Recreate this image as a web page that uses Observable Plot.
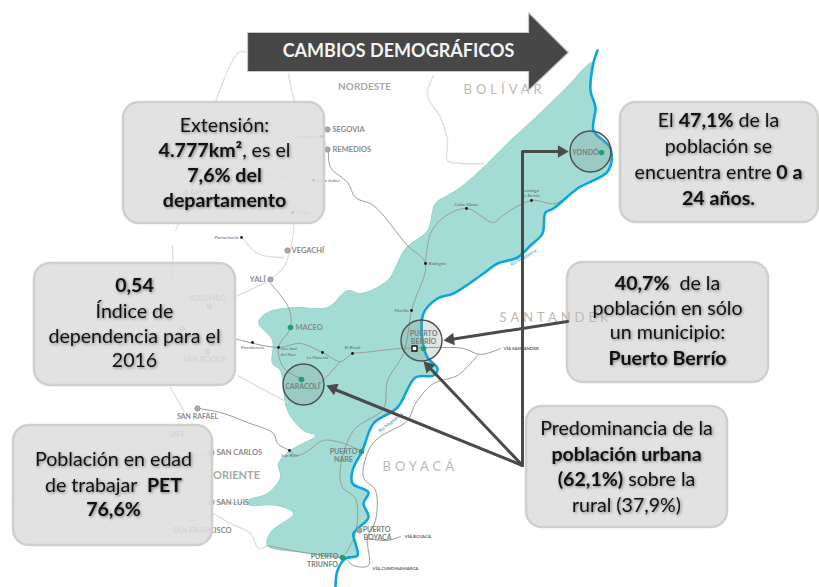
<!DOCTYPE html>
<html><head><meta charset="utf-8">
<script src="https://cdn.jsdelivr.net/npm/d3@7"></script>
<script src="https://cdn.jsdelivr.net/npm/@observablehq/plot@0.6"></script>
<style>html,body{margin:0;padding:0;background:#fff}svg{display:block}</style>
</head><body><div id="chart"></div>
<script>
const regionOutline=[[592,62],[565,88],[535,117],[510,140],[487,163],[460,187],[447,195],[435,203],[427,230],[405,248],[387,280],[360,293],[347,290],[327,307],[293,307],[267,312],[258,322],[272,340],[272,363],[280,370],[287,410],[303,430],[315,435],[290,450],[278,463],[280,477],[267,493],[248,500],[248,504],[277,505],[293,513],[270,532],[267,545],[303,552],[340,557],[357,555],[355,543],[353,533],[368,517],[363,503],[368,492],[352,483],[352,470],[362,450],[373,423],[397,407],[415,377],[433,375],[437,368],[427,357],[422,340],[423,313],[437,298],[453,293],[483,273],[497,263],[517,257],[530,245],[542,233],[545,212],[553,208],[577,188],[608,170],[610,148],[593,130],[595,107],[590,90]];
const riverPath=[[597,50],[593,62],[590,90],[595,107],[593,130],[610,148],[608,170],[577,188],[553,208],[545,212],[542,233],[530,245],[517,257],[497,263],[483,273],[453,293],[437,298],[423,313],[422,340],[427,357],[437,368],[433,375],[415,377],[397,407],[373,423],[362,450],[352,470],[352,483],[368,492],[363,503],[368,517],[353,533],[355,543],[357,555],[345,558],[337,570],[335,587]];
const mainRoads=[
 [[328,150],[330,167],[347,182],[355,197],[373,205],[407,245],[425,263],[415,298],[411,310],[403,353],[387,380],[383,408],[353,430],[340,467],[342,487],[355,498],[355,533],[345,553]],
 [[425,263],[430,233],[443,217],[466,208],[493,222],[502,215],[531,200],[555,203],[577,188]],
 [[230,337],[277,347],[300,343],[322,352],[340,361],[352,353],[363,352],[400,348],[443,347],[463,348],[480,354],[500,348]],
 [[477,355],[457,375],[433,383],[415,403],[407,420],[377,438],[368,450],[363,477],[375,490],[375,520],[367,537],[368,565],[353,565],[345,558]],
 [[367,538],[387,540],[400,536]],
 [[270,283],[288,307],[290,327],[278,347],[283,367],[302,379]],
 [[320,383],[340,361]],
 [[267,545],[303,552],[342,557]],
 [[199,408],[220,412],[247,422],[273,433],[277,443],[289,450],[297,455],[308,450],[322,440],[340,442],[360,450]]
];
const lightRoads=[
 [[433,75],[427,95],[440,117],[447,140],[447,160],[460,163],[483,163]],
 [[288,73],[297,107],[320,133],[327,149]],
 [[205,130],[238,52],[247,52]],
 [[293,223],[293,233],[283,267],[270,278]],
 [[242,237],[257,253],[283,257]],
 [[233,297],[270,280]],
 [[237,375],[287,402]],
 [[170,387],[183,410]],
 [[213,513],[230,523],[250,533],[258,548],[267,545]],
 [[170,510],[190,520],[213,515]],
 [[190,463],[207,493],[213,500],[248,502]],
 [[193,455],[213,455]],
 [[170,283],[172,270],[172,245]],
 [[313,180],[292,212],[293,223]],
 [[175,230],[210,180],[313,180]],
 [[215,310],[233,297]],
 [[210,345],[230,337]]
];
const headerArrow=[[247,32],[528,32],[528,12],[568,52],[528,90],[528,71],[247,71]];
const circles=[[590,151],[421,340],[303,384]];
const pointerLines=[
 [[522,465],[522,151],[561,151]],
 [[522,465],[332,388]],
 [[522,465],[428,366]],
 [[567,321],[450,339]]
];
const pointerHeads=[[561,151,90],[332.5,387.6,-68],[428,366,-44],[450,339,-98]];
const boxes=[[123,102,324,223],[34,263,235,385],[13,425,212,545],[620,102,818,222],[567,262,768,382],[526,406,727,527]];
const boxLines=[
 [224,125,"Extensión:"],[224,150,"*4.777km²*, es el"],[224,175,"*7,6% del*"],[224,200,"*departamento*"],
 [134,285,"*0,54*"],[134,311,"Índice de"],[134,336,"dependencia para el"],[134,360,"2016"],
 [113,459,"Población en edad"],[113,485,"de trabajar  *PET*"],[113,509,"*76,6%*"],
 [718,120,"El *47,1%* de la"],[718,146,"población se"],[718,172,"encuentra entre *0 a*"],[718,198,"*24 años.*"],
 [667,283,"*40,7%*  de la"],[667,308,"población en sólo"],[667,332,"un municipio:"],[667,358,"*Puerto Berrío*"],
 [626,428,"Predominancia de la"],[626,454,"*población urbana*"],[626,479,"*(62,1%)* sobre la"],[626,505,"rural (37,9%)"]
];
const regionNames=[[364,86,"NORDESTE",10],[236,475,"ORIENTE",11]];
const spacedNames=[[463,89,"BOLÍVAR"],[499,317,"SANTANDER"],[382,466,"BOYACÁ"]];
const grayTowns=[[332,129,"SEGOVIA"],[332,149,"REMEDIOS"],[291,250,"VEGACHÍ"],[216,452,"SAN CARLOS"],[216,502,"SAN LUIS"],[295,327,"MACEO"],[189,192,"AMALFI"],[172,530,"SAN FRANCISCO"]];
const grayTownsEnd=[[265,279,"YALÍ"],[226,298,"YOLOMBÓ"],[226,359,"SAN ROQUE"]];
const grayMid=[[197,416,"SAN RAFAEL"],[176,434,"SAFE"]];
const grayMarkers=[[327,129],[327,149],[287,250],[270,279],[209,306],[207,351],[197,408],[211,452],[211,502],[359,530],[182,328],[185,192]];
const towns=[[585,152,"YONDÓ"],[423,333,"PUERTO"],[423,341,"BERRÍO"],[302,386,"CARACOLÍ"],[343,451,"PUERTO"],[343,459,"NARE"],[376,529,"PUERTO"],[377,537,"BOYACÁ"],[324,556,"PUERTO"],[322,564,"TRIUNFO"]];
const greenMarkers=[[601,152],[423,348],[301,379],[361,451],[342,557],[290,327]];
const blackMarkers=[[321,136],[313,180],[292,212],[241,237],[252,342],[278,347],[322,352],[352,353],[411,310],[425,263],[466,208],[531,200],[289,450]];
const smallStart=[[316,180,"Sol la Isabel"],[296,212,"El Tigre"],[428,263,"Bodegón"],[280,348,"San José"],[280,354,"del Nuz"]];
const smallEnd=[[318,136,"La Cruzgada"],[238,237,"Portachuelo"],[408,310,"Murillo"]];
const smallMid=[[252,347,"Providencia"],[317,357,"La Floresta"],[352,347,"El Brasil"],[466,204,"Caño Sibote"],[530,190,"Santiago"],[530,195,"de Berrío"],[289,455,"San Blas"]];
const roadLabels=[[503,348,"VÍA SANTANDER"],[404,536,"VÍA BOYACÁ"],[372,568,"VÍA CUNDINAMARCA"]];
const riverLabels=[[523,257,"Río Magdalena",-30],[390,422,"Río Magdalena",-38]];

const asRows=(list)=>list.flatMap((p,i)=>p.map(([x,y])=>({x,y,i})));
const F="Lato, sans-serif";
const plot=Plot.plot({
 width:819,height:587,margin:0,
 x:{domain:[0,819],range:[0,819],axis:null},
 y:{domain:[0,587],range:[0,587],axis:null},
 marks:[
  Plot.line(regionOutline,{x:d=>d[0],y:d=>d[1],fill:"#a3dcd4",stroke:"#96d3ca",strokeWidth:1,curve:"catmull-rom-closed"}),
  Plot.line(asRows(lightRoads),{x:"x",y:"y",z:"i",stroke:"#dddddd",strokeWidth:1.3,curve:"catmull-rom"}),
  Plot.line(asRows(mainRoads),{x:"x",y:"y",z:"i",stroke:"#9b9b95",strokeWidth:1,curve:"catmull-rom"}),
  Plot.line(riverPath,{x:d=>d[0],y:d=>d[1],stroke:"#0ea5dc",strokeWidth:2.6,curve:"catmull-rom"}),
  Plot.dot(circles,{x:d=>d[0],y:d=>d[1],r:20.5,fill:"#7d938f",fillOpacity:.24,stroke:"#4d4d4d",strokeWidth:1.4}),
  Plot.text(regionNames,{x:d=>d[0],y:d=>d[1],text:d=>d[2],fontSize:d=>d[3],fill:"#a8a8a8",fontWeight:700,fontFamily:F}),
  Plot.text(grayTowns,{x:d=>d[0],y:d=>d[1],text:d=>d[2],fontSize:7.5,fontWeight:700,fill:"#8a8a8a",textAnchor:"start",fontFamily:F}),
  Plot.text(grayTownsEnd,{x:d=>d[0],y:d=>d[1],text:d=>d[2],fontSize:7.5,fontWeight:700,fill:"#8a8a8a",textAnchor:"end",fontFamily:F}),
  Plot.text(grayMid,{x:d=>d[0],y:d=>d[1],text:d=>d[2],fontSize:7,fontWeight:700,fill:"#8a8a8a",fontFamily:F}),
  Plot.text(towns,{x:d=>d[0],y:d=>d[1],text:d=>d[2],fontSize:7,fontWeight:700,fill:"#6f8480",fontFamily:F}),
  Plot.text(smallStart,{x:d=>d[0],y:d=>d[1],text:d=>d[2],fontSize:4.5,fill:"#666",textAnchor:"start",fontFamily:F}),
  Plot.text(smallEnd,{x:d=>d[0],y:d=>d[1],text:d=>d[2],fontSize:4.5,fill:"#666",textAnchor:"end",fontFamily:F}),
  Plot.text(smallMid,{x:d=>d[0],y:d=>d[1],text:d=>d[2],fontSize:4.5,fill:"#666",fontFamily:F}),
  Plot.text(roadLabels,{x:d=>d[0],y:d=>d[1],text:d=>d[2],fontSize:4.5,fontWeight:700,fill:"#666",textAnchor:"start",fontFamily:F}),
  Plot.text(riverLabels.slice(0,1),{x:d=>d[0],y:d=>d[1],text:d=>d[2],fontSize:4.5,fill:"#2a86c0",rotate:-30,fontFamily:F}),
  Plot.text(riverLabels.slice(1),{x:d=>d[0],y:d=>d[1],text:d=>d[2],fontSize:4.5,fill:"#2a86c0",rotate:-38,fontFamily:F}),
  Plot.dot(grayMarkers,{x:d=>d[0],y:d=>d[1],r:2.7,fill:"#a9a9a9",stroke:"#8d8d8d",strokeWidth:.6}),
  Plot.dot(blackMarkers,{x:d=>d[0],y:d=>d[1],r:1.4,fill:"#111"}),
  Plot.dot(greenMarkers,{x:d=>d[0],y:d=>d[1],r:2.8,fill:"#1f9e78"}),
  Plot.dot([[414,348]],{x:d=>d[0],y:d=>d[1],symbol:"square",r:2.8,fill:"#fff",stroke:"#111",strokeWidth:1.3}),
  Plot.rect(boxes,{x1:d=>d[0],y1:d=>d[1],x2:d=>d[2],y2:d=>d[3],rx:16,fill:"#dedede",fillOpacity:.88,stroke:"#cfcfcc",strokeWidth:2.5}),
  Plot.text(spacedNames,{x:d=>d[0],y:d=>d[1],text:d=>d[2],fontSize:13,fill:"#bdb8b4",textAnchor:"start",fontFamily:F}),
  Plot.line(asRows(pointerLines),{x:"x",y:"y",z:"i",stroke:"#4a4a4a",strokeWidth:3}),
  Plot.dot(pointerHeads,{x:d=>d[0],y:d=>d[1],rotate:d=>d[2],symbol:"triangle",r:4.6,fill:"#4a4a4a"}),
  Plot.line(headerArrow.concat([headerArrow[0]]),{x:d=>d[0],y:d=>d[1],fill:"#474747",stroke:"#c9c9c9",strokeWidth:1.2}),
  Plot.text(["CAMBIOS DEMOGRÁFICOS"],{x:()=>398,y:()=>51,text:d=>d,fontSize:18,fontWeight:700,fill:"#f4f4f4",fontFamily:F}),
  Plot.text(boxLines,{x:d=>d[0],y:d=>d[1],text:d=>d[2],fontSize:19.6,fill:"#111",fontFamily:F})
 ]
});
document.getElementById("chart").appendChild(plot);
d3.select(plot).selectAll("text").each(function(){
 const t=d3.select(this), s=t.text();
 if(this.closest('[font-size="13"]')) t.style("letter-spacing","4px");
 if(boxLines.some(d=>d[2]===s)){
  t.style("filter","drop-shadow(1px 1.5px 1.5px rgba(0,0,0,.45))");
  if(s.includes("*")){
   t.text(null);
   s.split("*").forEach((part,i)=>{ if(part) t.append("tspan").attr("font-weight",i%2?700:400).attr("xml:space","preserve").text(part); });
  }
 }
});
</script></body></html>
